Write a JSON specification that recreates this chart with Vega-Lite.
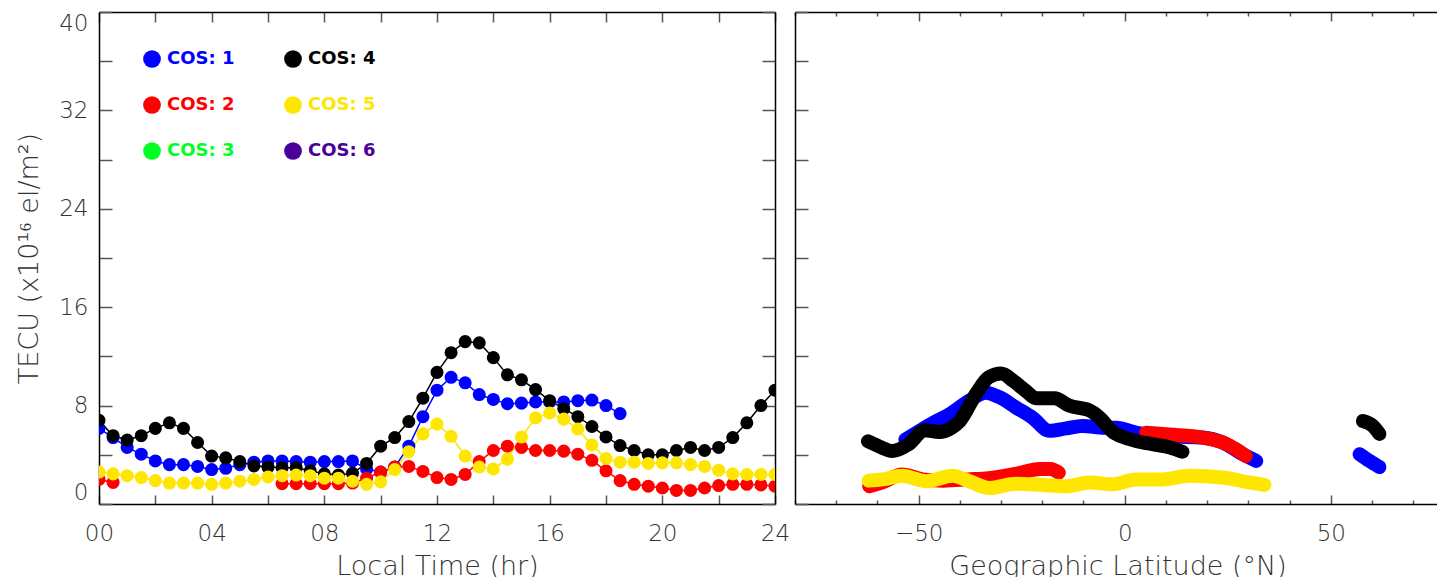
{
 "$schema": "https://vega.github.io/schema/vega-lite/v6.json",
 "autosize": {"type": "pad"},
 "padding": {"left": 15, "top": 11, "right": 0, "bottom": 0},
 "background": "white",
 "config": {
  "view": {"stroke": null},
  "axis": {"labelFont": "DejaVu Sans", "labelFontWeight": 200, "labelFontSize": 23, "labelColor": "#333", "titleFont": "DejaVu Sans", "titleFontWeight": 200, "titleFontSize": 27, "titleColor": "#333", "domainColor": "#000", "domainWidth": 1.5, "tickColor": "#555", "tickWidth": 1.5, "grid": false},
  "legend": {"title": null, "orient": "none", "legendX": 44, "legendY": 38, "columns": 2, "symbolType": "circle", "symbolSize": 314, "symbolStrokeWidth": 0, "symbolOpacity": 1, "labelFont": "DejaVu Sans", "labelFontWeight": "bold", "labelFontSize": 18, "labelOffset": 6, "columnPadding": 49, "rowPadding": 28, "labelLimit": 200}
 },
 "datasets": {
  "lt": [
   {"cos":"COS: 1","seg":"a","t":0,"v":6.15},{"cos":"COS: 1","seg":"a","t":0.5,"v":5.4},{"cos":"COS: 1","seg":"a","t":1,"v":4.6},{"cos":"COS: 1","seg":"a","t":1.5,"v":4.05},{"cos":"COS: 1","seg":"a","t":2,"v":3.5},{"cos":"COS: 1","seg":"a","t":2.5,"v":3.2},{"cos":"COS: 1","seg":"a","t":3,"v":3.2},{"cos":"COS: 1","seg":"a","t":3.5,"v":3.05},{"cos":"COS: 1","seg":"a","t":4,"v":2.8},{"cos":"COS: 1","seg":"a","t":4.5,"v":2.9},{"cos":"COS: 1","seg":"a","t":5,"v":3.2},{"cos":"COS: 1","seg":"a","t":5.5,"v":3.4},{"cos":"COS: 1","seg":"a","t":6,"v":3.5},{"cos":"COS: 1","seg":"a","t":6.5,"v":3.5},{"cos":"COS: 1","seg":"a","t":7,"v":3.45},{"cos":"COS: 1","seg":"a","t":7.5,"v":3.4},{"cos":"COS: 1","seg":"a","t":8,"v":3.45},{"cos":"COS: 1","seg":"a","t":8.5,"v":3.45},{"cos":"COS: 1","seg":"a","t":9,"v":3.5},{"cos":"COS: 1","seg":"a","t":9.5,"v":2.85},{"cos":"COS: 1","seg":"a","t":10,"v":2.6},{"cos":"COS: 1","seg":"a","t":10.5,"v":3.0},{"cos":"COS: 1","seg":"a","t":11,"v":4.7},{"cos":"COS: 1","seg":"a","t":11.5,"v":7.1},{"cos":"COS: 1","seg":"a","t":12,"v":9.25},{"cos":"COS: 1","seg":"a","t":12.5,"v":10.3},{"cos":"COS: 1","seg":"a","t":13,"v":9.85},{"cos":"COS: 1","seg":"a","t":13.5,"v":8.9},{"cos":"COS: 1","seg":"a","t":14,"v":8.5},{"cos":"COS: 1","seg":"a","t":14.5,"v":8.15},{"cos":"COS: 1","seg":"a","t":15,"v":8.2},{"cos":"COS: 1","seg":"a","t":15.5,"v":8.3},{"cos":"COS: 1","seg":"a","t":16,"v":8.3},{"cos":"COS: 1","seg":"a","t":16.5,"v":8.3},{"cos":"COS: 1","seg":"a","t":17,"v":8.4},{"cos":"COS: 1","seg":"a","t":17.5,"v":8.45},{"cos":"COS: 1","seg":"a","t":18,"v":8.0},{"cos":"COS: 1","seg":"a","t":18.5,"v":7.35},
   {"cos":"COS: 2","seg":"a","t":0,"v":2.0},{"cos":"COS: 2","seg":"a","t":0.5,"v":1.75},
   {"cos":"COS: 2","seg":"b","t":6.5,"v":1.65},{"cos":"COS: 2","seg":"b","t":7,"v":1.65},{"cos":"COS: 2","seg":"b","t":7.5,"v":1.65},{"cos":"COS: 2","seg":"b","t":8,"v":1.65},{"cos":"COS: 2","seg":"b","t":8.5,"v":1.65},{"cos":"COS: 2","seg":"b","t":9,"v":1.7},{"cos":"COS: 2","seg":"b","t":9.5,"v":2.1},{"cos":"COS: 2","seg":"b","t":10,"v":2.6},{"cos":"COS: 2","seg":"b","t":10.5,"v":3.0},{"cos":"COS: 2","seg":"b","t":11,"v":3.05},{"cos":"COS: 2","seg":"b","t":11.5,"v":2.65},{"cos":"COS: 2","seg":"b","t":12,"v":2.15},{"cos":"COS: 2","seg":"b","t":12.5,"v":2.0},{"cos":"COS: 2","seg":"b","t":13,"v":2.4},{"cos":"COS: 2","seg":"b","t":13.5,"v":3.45},{"cos":"COS: 2","seg":"b","t":14,"v":4.35},{"cos":"COS: 2","seg":"b","t":14.5,"v":4.7},{"cos":"COS: 2","seg":"b","t":15,"v":4.6},{"cos":"COS: 2","seg":"b","t":15.5,"v":4.35},{"cos":"COS: 2","seg":"b","t":16,"v":4.35},{"cos":"COS: 2","seg":"b","t":16.5,"v":4.3},{"cos":"COS: 2","seg":"b","t":17,"v":4.05},{"cos":"COS: 2","seg":"b","t":17.5,"v":3.55},{"cos":"COS: 2","seg":"b","t":18,"v":2.7},{"cos":"COS: 2","seg":"b","t":18.5,"v":1.9},{"cos":"COS: 2","seg":"b","t":19,"v":1.6},{"cos":"COS: 2","seg":"b","t":19.5,"v":1.45},{"cos":"COS: 2","seg":"b","t":20,"v":1.3},{"cos":"COS: 2","seg":"b","t":20.5,"v":1.1},{"cos":"COS: 2","seg":"b","t":21,"v":1.1},{"cos":"COS: 2","seg":"b","t":21.5,"v":1.3},{"cos":"COS: 2","seg":"b","t":22,"v":1.5},{"cos":"COS: 2","seg":"b","t":22.5,"v":1.6},{"cos":"COS: 2","seg":"b","t":23,"v":1.6},{"cos":"COS: 2","seg":"b","t":23.5,"v":1.55},{"cos":"COS: 2","seg":"b","t":24,"v":1.45},
   {"cos":"COS: 4","seg":"a","t":0,"v":6.8},{"cos":"COS: 4","seg":"a","t":0.5,"v":5.55},{"cos":"COS: 4","seg":"a","t":1,"v":5.2},{"cos":"COS: 4","seg":"a","t":1.5,"v":5.55},{"cos":"COS: 4","seg":"a","t":2,"v":6.15},{"cos":"COS: 4","seg":"a","t":2.5,"v":6.6},{"cos":"COS: 4","seg":"a","t":3,"v":6.15},{"cos":"COS: 4","seg":"a","t":3.5,"v":5.0},{"cos":"COS: 4","seg":"a","t":4,"v":3.9},{"cos":"COS: 4","seg":"a","t":4.5,"v":3.75},{"cos":"COS: 4","seg":"a","t":5,"v":3.45},{"cos":"COS: 4","seg":"a","t":5.5,"v":3.1},{"cos":"COS: 4","seg":"a","t":6,"v":3.0},{"cos":"COS: 4","seg":"a","t":6.5,"v":2.95},{"cos":"COS: 4","seg":"a","t":7,"v":2.95},{"cos":"COS: 4","seg":"a","t":7.5,"v":2.7},{"cos":"COS: 4","seg":"a","t":8,"v":2.45},{"cos":"COS: 4","seg":"a","t":8.5,"v":2.35},{"cos":"COS: 4","seg":"a","t":9,"v":2.5},{"cos":"COS: 4","seg":"a","t":9.5,"v":3.3},{"cos":"COS: 4","seg":"a","t":10,"v":4.7},{"cos":"COS: 4","seg":"a","t":10.5,"v":5.4},{"cos":"COS: 4","seg":"a","t":11,"v":6.7},{"cos":"COS: 4","seg":"a","t":11.5,"v":8.6},{"cos":"COS: 4","seg":"a","t":12,"v":10.7},{"cos":"COS: 4","seg":"a","t":12.5,"v":12.3},{"cos":"COS: 4","seg":"a","t":13,"v":13.2},{"cos":"COS: 4","seg":"a","t":13.5,"v":13.1},{"cos":"COS: 4","seg":"a","t":14,"v":11.9},{"cos":"COS: 4","seg":"a","t":14.5,"v":10.5},{"cos":"COS: 4","seg":"a","t":15,"v":10.1},{"cos":"COS: 4","seg":"a","t":15.5,"v":9.3},{"cos":"COS: 4","seg":"a","t":16,"v":8.4},{"cos":"COS: 4","seg":"a","t":16.5,"v":7.75},{"cos":"COS: 4","seg":"a","t":17,"v":7.1},{"cos":"COS: 4","seg":"a","t":17.5,"v":6.3},{"cos":"COS: 4","seg":"a","t":18,"v":5.45},{"cos":"COS: 4","seg":"a","t":18.5,"v":4.75},{"cos":"COS: 4","seg":"a","t":19,"v":4.35},{"cos":"COS: 4","seg":"a","t":19.5,"v":4.0},{"cos":"COS: 4","seg":"a","t":20,"v":4.0},{"cos":"COS: 4","seg":"a","t":20.5,"v":4.35},{"cos":"COS: 4","seg":"a","t":21,"v":4.6},{"cos":"COS: 4","seg":"a","t":21.5,"v":4.35},{"cos":"COS: 4","seg":"a","t":22,"v":4.6},{"cos":"COS: 4","seg":"a","t":22.5,"v":5.4},{"cos":"COS: 4","seg":"a","t":23,"v":6.6},{"cos":"COS: 4","seg":"a","t":23.5,"v":8.0},{"cos":"COS: 4","seg":"a","t":24,"v":9.25},
   {"cos":"COS: 5","seg":"a","t":0,"v":2.6},{"cos":"COS: 5","seg":"a","t":0.5,"v":2.45},{"cos":"COS: 5","seg":"a","t":1,"v":2.3},{"cos":"COS: 5","seg":"a","t":1.5,"v":2.15},{"cos":"COS: 5","seg":"a","t":2,"v":1.9},{"cos":"COS: 5","seg":"a","t":2.5,"v":1.7},{"cos":"COS: 5","seg":"a","t":3,"v":1.7},{"cos":"COS: 5","seg":"a","t":3.5,"v":1.7},{"cos":"COS: 5","seg":"a","t":4,"v":1.6},{"cos":"COS: 5","seg":"a","t":4.5,"v":1.7},{"cos":"COS: 5","seg":"a","t":5,"v":1.85},{"cos":"COS: 5","seg":"a","t":5.5,"v":2.0},{"cos":"COS: 5","seg":"a","t":6,"v":2.2},{"cos":"COS: 5","seg":"a","t":6.5,"v":2.3},{"cos":"COS: 5","seg":"a","t":7,"v":2.35},{"cos":"COS: 5","seg":"a","t":7.5,"v":2.3},{"cos":"COS: 5","seg":"a","t":8,"v":2.1},{"cos":"COS: 5","seg":"a","t":8.5,"v":2.1},{"cos":"COS: 5","seg":"a","t":9,"v":1.85},{"cos":"COS: 5","seg":"a","t":9.5,"v":1.6},{"cos":"COS: 5","seg":"a","t":10,"v":1.8},{"cos":"COS: 5","seg":"a","t":10.5,"v":2.8},{"cos":"COS: 5","seg":"a","t":11,"v":4.25},{"cos":"COS: 5","seg":"a","t":11.5,"v":5.7},{"cos":"COS: 5","seg":"a","t":12,"v":6.5},{"cos":"COS: 5","seg":"a","t":12.5,"v":5.5},{"cos":"COS: 5","seg":"a","t":13,"v":3.9},{"cos":"COS: 5","seg":"a","t":13.5,"v":3.0},{"cos":"COS: 5","seg":"a","t":14,"v":2.85},{"cos":"COS: 5","seg":"a","t":14.5,"v":3.65},{"cos":"COS: 5","seg":"a","t":15,"v":5.45},{"cos":"COS: 5","seg":"a","t":15.5,"v":7.0},{"cos":"COS: 5","seg":"a","t":16,"v":7.4},{"cos":"COS: 5","seg":"a","t":16.5,"v":6.9},{"cos":"COS: 5","seg":"a","t":17,"v":6.1},{"cos":"COS: 5","seg":"a","t":17.5,"v":4.8},{"cos":"COS: 5","seg":"a","t":18,"v":3.7},{"cos":"COS: 5","seg":"a","t":18.5,"v":3.4},{"cos":"COS: 5","seg":"a","t":19,"v":3.4},{"cos":"COS: 5","seg":"a","t":19.5,"v":3.3},{"cos":"COS: 5","seg":"a","t":20,"v":3.35},{"cos":"COS: 5","seg":"a","t":20.5,"v":3.35},{"cos":"COS: 5","seg":"a","t":21,"v":3.2},{"cos":"COS: 5","seg":"a","t":21.5,"v":3.05},{"cos":"COS: 5","seg":"a","t":22,"v":2.75},{"cos":"COS: 5","seg":"a","t":22.5,"v":2.45},{"cos":"COS: 5","seg":"a","t":23,"v":2.4},{"cos":"COS: 5","seg":"a","t":23.5,"v":2.4},{"cos":"COS: 5","seg":"a","t":24,"v":2.4}
  ],
  "lat": [
   {"cos":"COS: 1","seg":"a","lat":-53.2,"v":5.25},{"cos":"COS: 1","seg":"a","lat":-50,"v":5.9},{"cos":"COS: 1","seg":"a","lat":-46.5,"v":6.6},{"cos":"COS: 1","seg":"a","lat":-42.5,"v":7.3},{"cos":"COS: 1","seg":"a","lat":-37.7,"v":8.4},{"cos":"COS: 1","seg":"a","lat":-33.7,"v":9.05},{"cos":"COS: 1","seg":"a","lat":-30.5,"v":8.7},{"cos":"COS: 1","seg":"a","lat":-26.4,"v":7.85},{"cos":"COS: 1","seg":"a","lat":-22.3,"v":7.0},{"cos":"COS: 1","seg":"a","lat":-18.3,"v":5.95},{"cos":"COS: 1","seg":"a","lat":-14.2,"v":6.15},{"cos":"COS: 1","seg":"a","lat":-10.2,"v":6.35},{"cos":"COS: 1","seg":"a","lat":-5,"v":6.2},{"cos":"COS: 1","seg":"a","lat":-2,"v":6.2},{"cos":"COS: 1","seg":"a","lat":2.7,"v":5.8},{"cos":"COS: 1","seg":"a","lat":10.8,"v":5.5},{"cos":"COS: 1","seg":"a","lat":18.9,"v":5.4},{"cos":"COS: 1","seg":"a","lat":23.8,"v":5.0},{"cos":"COS: 1","seg":"a","lat":28.6,"v":4.05},{"cos":"COS: 1","seg":"a","lat":31.9,"v":3.5},
   {"cos":"COS: 1","seg":"b","lat":57,"v":4.05},{"cos":"COS: 1","seg":"b","lat":59.4,"v":3.5},{"cos":"COS: 1","seg":"b","lat":61.8,"v":3.0},
   {"cos":"COS: 2","seg":"a","lat":-62,"v":1.45},{"cos":"COS: 2","seg":"a","lat":-58.5,"v":1.8},{"cos":"COS: 2","seg":"a","lat":-54,"v":2.4},{"cos":"COS: 2","seg":"a","lat":-49,"v":2.0},{"cos":"COS: 2","seg":"a","lat":-44,"v":1.9},{"cos":"COS: 2","seg":"a","lat":-38,"v":2.0},{"cos":"COS: 2","seg":"a","lat":-33,"v":2.1},{"cos":"COS: 2","seg":"a","lat":-26.5,"v":2.45},{"cos":"COS: 2","seg":"a","lat":-20.5,"v":2.85},{"cos":"COS: 2","seg":"a","lat":-18,"v":2.85},{"cos":"COS: 2","seg":"a","lat":-16,"v":2.55},
   {"cos":"COS: 2","seg":"b","lat":5.2,"v":5.8},{"cos":"COS: 2","seg":"b","lat":10.8,"v":5.65},{"cos":"COS: 2","seg":"b","lat":18.9,"v":5.4},{"cos":"COS: 2","seg":"b","lat":23.8,"v":5.0},{"cos":"COS: 2","seg":"b","lat":27,"v":4.45},{"cos":"COS: 2","seg":"b","lat":29.4,"v":3.9},
   {"cos":"COS: 4","seg":"a","lat":-62.3,"v":5.1},{"cos":"COS: 4","seg":"a","lat":-59,"v":4.6},{"cos":"COS: 4","seg":"a","lat":-56.5,"v":4.3},{"cos":"COS: 4","seg":"a","lat":-52.5,"v":4.85},{"cos":"COS: 4","seg":"a","lat":-48.5,"v":6.0},{"cos":"COS: 4","seg":"a","lat":-45,"v":5.85},{"cos":"COS: 4","seg":"a","lat":-42,"v":6.2},{"cos":"COS: 4","seg":"a","lat":-40,"v":6.75},{"cos":"COS: 4","seg":"a","lat":-36,"v":9.0},{"cos":"COS: 4","seg":"a","lat":-33,"v":10.3},{"cos":"COS: 4","seg":"a","lat":-30,"v":10.6},{"cos":"COS: 4","seg":"a","lat":-27,"v":10.0},{"cos":"COS: 4","seg":"a","lat":-24,"v":9.2},{"cos":"COS: 4","seg":"a","lat":-21.5,"v":8.6},{"cos":"COS: 4","seg":"a","lat":-17,"v":8.6},{"cos":"COS: 4","seg":"a","lat":-13.5,"v":8.0},{"cos":"COS: 4","seg":"a","lat":-8.5,"v":7.6},{"cos":"COS: 4","seg":"a","lat":-6,"v":7.0},{"cos":"COS: 4","seg":"a","lat":-3,"v":5.9},{"cos":"COS: 4","seg":"a","lat":0,"v":5.4},{"cos":"COS: 4","seg":"a","lat":3,"v":5.1},{"cos":"COS: 4","seg":"a","lat":7,"v":4.85},{"cos":"COS: 4","seg":"a","lat":11,"v":4.6},{"cos":"COS: 4","seg":"a","lat":14,"v":4.25},
   {"cos":"COS: 4","seg":"b","lat":57.8,"v":6.75},{"cos":"COS: 4","seg":"b","lat":60.2,"v":6.35},{"cos":"COS: 4","seg":"b","lat":61.8,"v":5.7},
   {"cos":"COS: 5","seg":"a","lat":-62.1,"v":1.9},{"cos":"COS: 5","seg":"a","lat":-58.7,"v":2.0},{"cos":"COS: 5","seg":"a","lat":-54,"v":2.3},{"cos":"COS: 5","seg":"a","lat":-48.2,"v":1.85},{"cos":"COS: 5","seg":"a","lat":-41.7,"v":2.3},{"cos":"COS: 5","seg":"a","lat":-37.7,"v":1.85},{"cos":"COS: 5","seg":"a","lat":-32.8,"v":1.3},{"cos":"COS: 5","seg":"a","lat":-26.4,"v":1.65},{"cos":"COS: 5","seg":"a","lat":-19.9,"v":1.55},{"cos":"COS: 5","seg":"a","lat":-14.2,"v":1.45},{"cos":"COS: 5","seg":"a","lat":-8.6,"v":1.75},{"cos":"COS: 5","seg":"a","lat":-2.9,"v":1.6},{"cos":"COS: 5","seg":"a","lat":2.7,"v":2.0},{"cos":"COS: 5","seg":"a","lat":9.2,"v":2.0},{"cos":"COS: 5","seg":"a","lat":15.7,"v":2.3},{"cos":"COS: 5","seg":"a","lat":23.8,"v":2.15},{"cos":"COS: 5","seg":"a","lat":30.3,"v":1.75},{"cos":"COS: 5","seg":"a","lat":33.9,"v":1.55}
  ]
 },
 "resolve": {"scale": {"color": "shared"}},
 "spacing": 4,
 "hconcat": [
  {
   "width": 676, "height": 492,
   "data": {"name": "lt"},
   "layer": [
    {
     "mark": {"type": "line", "strokeWidth": 1.5, "clip": true},
     "encoding": {
      "x": {"field": "t", "type": "quantitative", "scale": {"domain": [0, 24], "nice": false, "zero": false},
        "axis": {"orient": "bottom", "values": [0,2,4,6,8,10,12,14,16,18,20,22,24], "labelExpr": "datum.value % 4 === 0 ? (datum.value < 10 ? '0' + datum.value : '' + datum.value) : ''", "labelOverlap": false, "labelFlush": false, "tickSize": -9, "labelPadding": 27, "title": "Local Time (hr)", "titlePadding": 8}},
      "y": {"field": "v", "type": "quantitative", "scale": {"domain": [0, 40], "nice": false},
        "axis": {"orient": "left", "values": [0,4,8,12,16,20,24,28,32,36,40], "labelExpr": "datum.value % 8 === 0 ? datum.label : ''", "labelOverlap": false, "labelFlush": true, "tickSize": -13, "labelPadding": 24, "title": "TECU (x10¹⁶ el/m²)", "titlePadding": 15}},
      "color": {"field": "cos", "type": "nominal",
        "scale": {"domain": ["COS: 1","COS: 2","COS: 3","COS: 4","COS: 5","COS: 6"], "range": ["#0000ff","#ff0000","#00ff22","#000000","#ffe600","#4b0099"]},
        "legend": {"encode": {"labels": {"update": {"fill": {"scale": "color", "field": "value"}}}}}},
      "detail": {"field": "seg"}
     }
    },
    {
     "mark": {"type": "point", "filled": true, "size": 170, "opacity": 1, "clip": true},
     "encoding": {
      "x": {"field": "t", "type": "quantitative", "axis": {"orient": "top", "values": [0,2,4,6,8,10,12,14,16,18,20,22,24], "labels": false, "tickSize": -10, "title": null}},
      "y": {"field": "v", "type": "quantitative", "axis": {"orient": "right", "values": [0,4,8,12,16,20,24,28,32,36,40], "labels": false, "tickSize": -13, "title": null}},
      "color": {"field": "cos", "type": "nominal"}
     }
    }
   ],
   "resolve": {"axis": {"x": "independent", "y": "independent"}}
  },
  {
   "width": 645, "height": 492,
   "data": {"name": "lat"},
   "layer": [
    {
     "transform": [{"filter": "datum.cos === 'COS: 1' || datum.cos === 'COS: 2'"}],
     "mark": {"type": "line", "strokeWidth": 14, "strokeCap": "round", "strokeJoin": "round", "interpolate": "monotone", "clip": true},
     "encoding": {
      "x": {"field": "lat", "type": "quantitative", "scale": {"domain": [-80, 76.5], "nice": false, "zero": false},
        "axis": {"orient": "bottom", "values": [-80,-70,-60,-50,-40,-30,-20,-10,0,10,20,30,40,50,60,70], "labelExpr": "datum.value % 50 === 0 ? datum.label : ''", "labelOverlap": false, "labelFlush": false, "tickSize": {"condition": {"test": "datum.value % 50 === 0", "value": -9}, "value": -4}, "labelPadding": 27, "title": "Geographic Latitude (°N)", "titlePadding": 3}},
      "y": {"field": "v", "type": "quantitative", "scale": {"domain": [0, 40], "nice": false},
        "axis": {"orient": "left", "values": [0,4,8,12,16,20,24,28,32,36,40], "labels": false, "tickSize": -13, "title": null}},
      "color": {"field": "cos", "type": "nominal"},
      "detail": {"field": "seg"}
     }
    },
    {
     "transform": [{"filter": "datum.cos === 'COS: 4' || datum.cos === 'COS: 5'"}],
     "mark": {"type": "line", "strokeWidth": 14, "strokeCap": "round", "strokeJoin": "round", "interpolate": "monotone", "clip": true},
     "encoding": {
      "x": {"field": "lat", "type": "quantitative",
        "axis": {"orient": "top", "values": [-80,-70,-60,-50,-40,-30,-20,-10,0,10,20,30,40,50,60,70], "labels": false, "tickSize": {"condition": {"test": "datum.value % 50 === 0", "value": -9}, "value": -4}, "title": null}},
      "y": {"field": "v", "type": "quantitative", "axis": null},
      "color": {"field": "cos", "type": "nominal"},
      "detail": {"field": "seg"}
     }
    }
   ],
   "resolve": {"axis": {"x": "independent", "y": "independent"}}
  }
 ]
}
